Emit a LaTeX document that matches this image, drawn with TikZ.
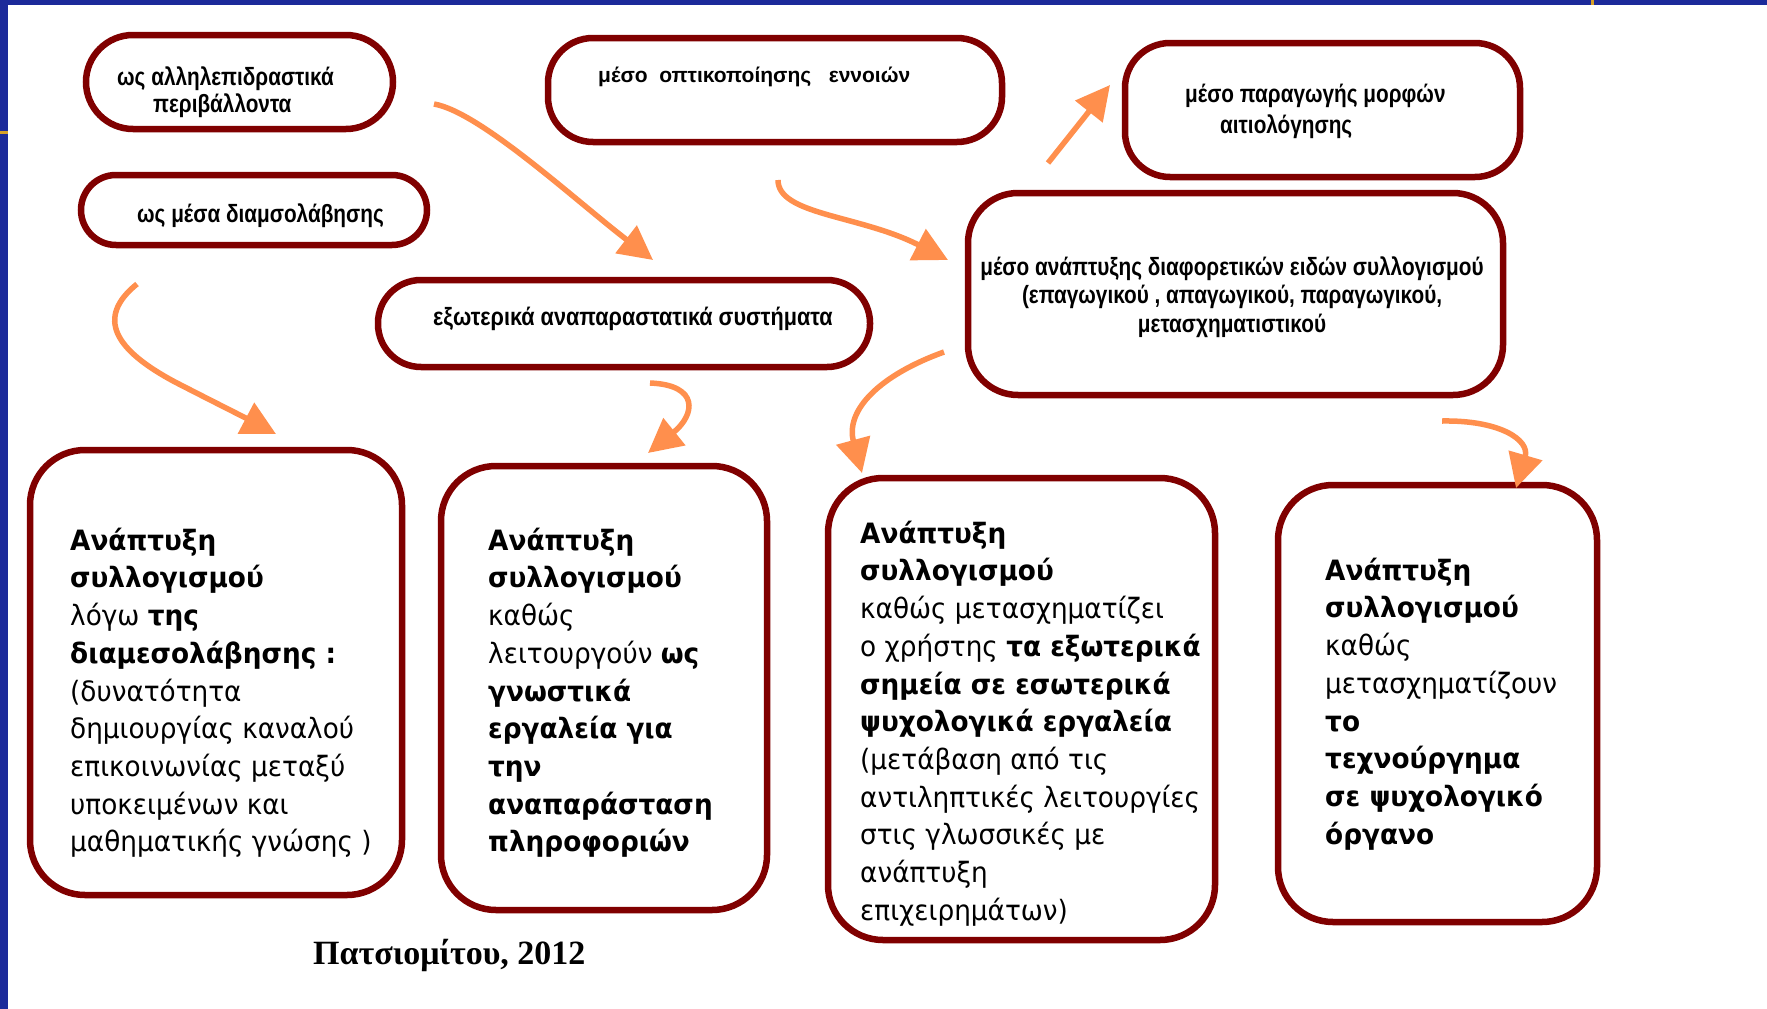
\documentclass[tikz,border=0pt]{standalone}
\usepackage{fontspec}
\setmainfont{DejaVu Sans}
\newfontfamily\bigf[FakeStretch=0.94]{DejaVu Sans}
\newfontfamily\smf[FakeStretch=0.83]{Liberation Sans}
\newfontfamily\smwf[FakeStretch=0.865]{Liberation Sans}
\newfontfamily\capf{Liberation Serif}
\usetikzlibrary{arrows.meta}
\definecolor{boxred}{RGB}{128,0,0}
\definecolor{arrcol}{RGB}{255,143,77}
\definecolor{slideblue}{RGB}{28,42,154}
\definecolor{goldtick}{RGB}{214,160,40}
\tikzset{
  boxbase/.style={draw=boxred, line width=6.5pt, fill=white, inner sep=0pt, outer sep=0pt},
  bigtext/.style={font=\bigf\fontsize{28}{37.7}\selectfont, align=left, inner sep=0pt, anchor=north west},
  smtext/.style={font=\smf\bfseries\fontsize{25}{30}\selectfont, inner sep=0pt},
  arrowline/.style={draw=arrcol, line width=5.5pt, -{Triangle[length=34pt,width=34pt]}}
}
\begin{document}
\begin{tikzpicture}[x=1pt,y=-1pt]
\useasboundingbox (0,0) rectangle (1767,1009);
\fill[white] (0,0) rectangle (1767,1009);
\fill[slideblue] (0,0) rectangle (8,1009);
\fill[slideblue] (0,0) rectangle (1767,5);
\fill[goldtick] (0,131) rectangle (8,133.5);
\fill[goldtick] (1591,0) rectangle (1593.5,5);

% top boxes
\node[boxbase, rounded corners=47pt, minimum width=307pt, minimum height=94pt] (A) at (239.5,82) {};
\node[boxbase, rounded corners=35pt, minimum width=346pt, minimum height=70pt] (B) at (254,210) {};
\node[boxbase, rounded corners=45pt, minimum width=454pt, minimum height=104pt] (C) at (775,90) {};
\node[boxbase, rounded corners=45pt, minimum width=395pt, minimum height=134pt] (D) at (1322.5,110) {};
\node[boxbase, rounded corners=50pt, minimum width=535pt, minimum height=202pt] (E) at (1235.5,294) {};
\node[boxbase, rounded corners=43pt, minimum width=492pt, minimum height=87pt] (F) at (624,323.5) {};

% bottom boxes
\node[boxbase, rounded corners=55pt, minimum width=372pt, minimum height=445pt] (G1) at (216,672.5) {};
\node[boxbase, rounded corners=55pt, minimum width=326pt, minimum height=444pt] (G2) at (604,688) {};
\node[boxbase, rounded corners=55pt, minimum width=387pt, minimum height=462pt] (G3) at (1021.5,709) {};
\node[boxbase, rounded corners=55pt, minimum width=319pt, minimum height=437pt] (G4) at (1437.5,703.5) {};

% small texts
\node[smtext, align=left, anchor=north west, font=\smf\bfseries\fontsize{25}{27}\selectfont] (tA) at (117,65)
  {\rule{0pt}{20pt}ως αλληλεπιδραστικά\\\hspace*{36pt}περιβάλλοντα};
\node[smtext, anchor=base west] (tB) at (137,222) {ως μέσα διαμσολάβησης};
\node[font=\fontspec{Liberation Sans}\bfseries\fontsize{21}{25}\selectfont, inner sep=0pt, anchor=base west] (tC) at (598,82)
  {μέσο\ \ οπτικοποίησης\ \ \ εννοιών};
\node[smtext, align=left, anchor=north west, font=\smf\bfseries\fontsize{25}{31}\selectfont] (tD) at (1185,82)
  {\rule{0pt}{20pt}μέσο παραγωγής μορφών\\\hspace*{35pt}αιτιολόγησης};
\node[smtext, align=center, anchor=north, font=\smf\bfseries\fontsize{25}{28.5}\selectfont] (tE) at (1232,255)
  {\rule{0pt}{20pt}μέσο ανάπτυξης διαφορετικών ειδών συλλογισμού\\(επαγωγικού , απαγωγικού, παραγωγικού,\\μετασχηματιστικού};
\node[smtext, anchor=base west, font=\smwf\bfseries\fontsize{25}{30}\selectfont] (tF) at (433,325) {εξωτερικά αναπαραστατικά συστήματα};

% big texts
\node[bigtext] (t1) at (70,526) {\rule{0pt}{24pt}\textbf{Ανάπτυξη}\\
\textbf{συλλογισμού}\\
λόγω \textbf{της}\\
\textbf{διαμεσολάβησης :}\\
(δυνατότητα\\
δημιουργίας καναλού\\
επικοινωνίας μεταξύ\\
υποκειμένων και\\
μαθηματικής γνώσης )};

\node[bigtext] (t2) at (488,526) {\rule{0pt}{24pt}\textbf{Ανάπτυξη}\\
\textbf{συλλογισμού}\\
καθώς\\
λειτουργούν \textbf{ως}\\
\textbf{γνωστικά}\\
\textbf{εργαλεία για}\\
\textbf{την}\\
\textbf{αναπαράσταση}\\
\textbf{πληροφοριών}};

\node[bigtext] (t3) at (860,519) {\rule{0pt}{24pt}\textbf{Ανάπτυξη}\\
\textbf{συλλογισμού}\\
καθώς μετασχηματίζει\\
ο χρήστης \textbf{τα εξωτερικά}\\
\textbf{σημεία σε εσωτερικά}\\
\textbf{ψυχολογικά εργαλεία}\\
(μετάβαση από τις\\
αντιληπτικές λειτουργίες\\
στις γλωσσικές με\\
ανάπτυξη\\
επιχειρημάτων)};

\node[bigtext] (t4) at (1325,556) {\rule{0pt}{24pt}\textbf{Ανάπτυξη}\\
\textbf{συλλογισμού}\\
καθώς\\
μετασχηματίζουν\\
\textbf{το}\\
\textbf{τεχνούργημα}\\
\textbf{σε ψυχολογικό}\\
\textbf{όργανο}};

% caption
\node[font=\capf\bfseries\fontsize{34}{40}\selectfont, inner sep=0pt, anchor=base west] (cap) at (313,964) {Πατσιομίτου, 2012};

% arrows
\coordinate (a1s) at (434,104); \coordinate (a1e) at (653,260);
\coordinate (a2s) at (778,180); \coordinate (a2e) at (948,260);
\coordinate (a3s) at (1048,163); \coordinate (a3e) at (1110,85);
\coordinate (a4s) at (137,284); \coordinate (a4e) at (276,434);
\coordinate (a5s) at (650,383); \coordinate (a5e) at (648,453);
\coordinate (a6s) at (944,352); \coordinate (a6e) at (862,473);
\coordinate (a7s) at (1442,421); \coordinate (a7e) at (1516,488);

\draw[arrowline] (a1s) .. controls (480,112) and (575,200) .. (a1e);
\draw[arrowline] (a2s) .. controls (778,215) and (860,215) .. (a2e);
\draw[arrowline] (a3s) -- (a3e);
\draw[arrowline] (a4s) .. controls (95,318) and (115,350) .. (175,382) .. controls (210,400) and (240,415) .. (a4e);
\draw[arrowline] (a5s) .. controls (700,385) and (695,415) .. (a5e);
\draw[arrowline] (a6s) .. controls (880,375) and (845,410) .. (a6e);
\draw[arrowline] (a7s) .. controls (1500,420) and (1530,440) .. (a7e);
\end{tikzpicture}
\end{document}
